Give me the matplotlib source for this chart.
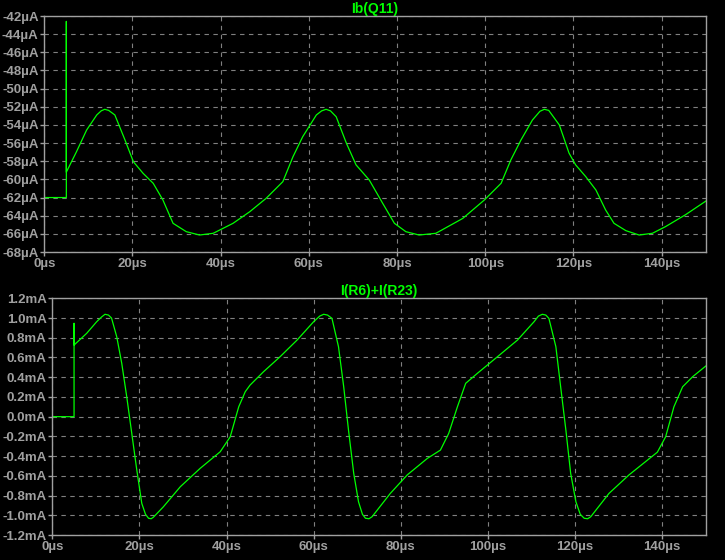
import matplotlib
matplotlib.use("Agg")
import matplotlib.pyplot as plt

# Ib(Q11), time in us, current in uA
t_top = [0, 5, 5, 5, 7.3, 9.6, 11.9, 12.9, 13.7, 14.6, 16.0, 18.3, 20.2, 22.4, 24.7,
         26.9, 29.2, 32.2, 35.2, 38.3, 42.8, 46.6, 50.3, 54.1, 56.4, 58.6, 61.7,
         62.9, 63.9, 64.9, 66.2, 68.5, 70.7, 73.7, 76.7, 79.4, 82.0, 85.0, 88.8,
         94.9, 99.8, 103.6, 105.8, 108.1, 110.7, 112.4, 113.4, 114.4, 116.8, 119.0,
         120.5, 122.8, 125.1, 127.3, 129.2, 131.9, 134.9, 137.9, 140.9, 145.4, 150]
ib_top = [-62, -62, -42.6, -59.2, -56.95, -54.56, -52.9, -52.45, -52.28, -52.4, -52.9,
          -55.66, -58.05, -59.33, -60.43, -62.27, -64.84, -65.76, -66.13, -65.94,
          -64.84, -63.56, -62.09, -60.25, -57.5, -55.3, -52.9, -52.45, -52.28, -52.45,
          -53.1, -56.0, -58.4, -60.07, -62.6, -64.84, -65.76, -66.13, -65.94, -64.3,
          -62.27, -60.43, -57.86, -55.66, -53.46, -52.5, -52.28, -52.4, -54.0, -57.1,
          -58.4, -59.7, -61.17, -63.37, -64.84, -65.65, -66.13, -65.94, -65.2, -63.9,
          -62.4]

# I(R6)+I(R23), time in us, current in mA
t_bot = [0, 5, 5, 5, 7.9, 10.2, 11.3, 12.1, 12.9, 13.6, 14.8, 15.95, 17.1, 18.25, 19.4,
         20.55, 21.4, 22.1, 22.7, 23.2, 25.5, 29.4, 33.95, 38.55, 40.85, 42.8, 44.3,
         45.4, 48.5, 52.3, 56.2, 60.0, 61.4, 62.3, 63.2, 64.2, 65.7, 66.9, 68.0,
         69.2, 70.3, 71.2, 71.9, 72.7, 73.4, 77.6, 81.5, 86.1, 89.1, 91.0, 93.0,
         94.9, 97.6, 102.2, 106.8, 110.6, 111.6, 112.5, 113.3, 114.0, 115.6, 116.7,
         117.9, 119.0, 120.2, 121.2, 122.1, 122.9, 123.6, 127.8, 132.4, 138.9,
         140.8, 142.7, 144.7, 147.0, 150]
i_bot = [0, 0, 0.946, 0.726, 0.845, 0.963, 1.01, 1.038, 1.03, 1.0, 0.81, 0.54, 0.2,
         -0.17, -0.54, -0.88, -0.99, -1.03, -1.035, -1.02, -0.914, -0.71, -0.524,
         -0.356, -0.204, 0.1, 0.253, 0.32, 0.456, 0.608, 0.777, 0.963, 1.02, 1.038,
         1.03, 0.997, 0.71, 0.303, -0.136, -0.575, -0.863, -0.99, -1.03, -1.035,
         -1.015, -0.778, -0.59, -0.423, -0.339, -0.17, 0.1, 0.338, 0.44, 0.608, 0.777,
         0.963, 1.02, 1.038, 1.03, 0.997, 0.71, 0.303, -0.136, -0.575, -0.863, -0.99,
         -1.03, -1.035, -1.015, -0.778, -0.59, -0.36, -0.204, 0.1, 0.303, 0.405, 0.513]

x_ticks = [0, 20, 40, 60, 80, 100, 120, 140]
x_labels = ["0µs", "20µs", "40µs", "60µs", "80µs", "100µs", "120µs", "140µs"]
top_yticks = list(range(-68, -41, 2))
top_ylabels = ["%dµA" % v for v in top_yticks]
bot_yticks = [-1.2, -1.0, -0.8, -0.6, -0.4, -0.2, 0.0, 0.2, 0.4, 0.6, 0.8, 1.0, 1.2]
bot_ylabels = ["%.1fmA" % v for v in bot_yticks]

green = "#00ff00"
grey = "#a0a0a0"
plt.rcParams["font.family"] = ["Liberation Sans", "DejaVu Sans"]

fig = plt.figure(figsize=(7.25, 5.6), dpi=100, facecolor="black")
ax1 = fig.add_axes([0.0611, 0.55, 0.9123, 0.4214])
ax2 = fig.add_axes([0.0721, 0.0446, 0.9013, 0.4227])


def style(ax, title, yt, yl, ylim):
    ax.set_facecolor("black")
    ax.set_xlim(0, 150)
    ax.set_ylim(*ylim)
    ax.set_xticks(x_ticks)
    ax.set_xticklabels(x_labels)
    ax.set_yticks(yt)
    ax.set_yticklabels(yl)
    for s in ax.spines.values():
        s.set_color(grey)
        s.set_linewidth(1)
    ax.tick_params(colors=grey, labelsize=9.5, length=3, width=1, pad=1)
    for lab in ax.get_xticklabels() + ax.get_yticklabels():
        lab.set_fontweight("bold")
    ax.grid(True, color="#808080", linestyle=(0, (4, 4)), linewidth=0.8)
    ax.set_title(title, color=green, fontsize=10, fontweight="bold", pad=2)


ax1.plot(t_top, ib_top, color=green, lw=0.9)
style(ax1, "Ib(Q11)", top_yticks, top_ylabels, (-68, -42))
ax2.plot(t_bot, i_bot, color=green, lw=0.9)
style(ax2, "I(R6)+I(R23)", bot_yticks, bot_ylabels, (-1.2, 1.2))

fig.savefig("out.png", dpi=100, facecolor="black")
